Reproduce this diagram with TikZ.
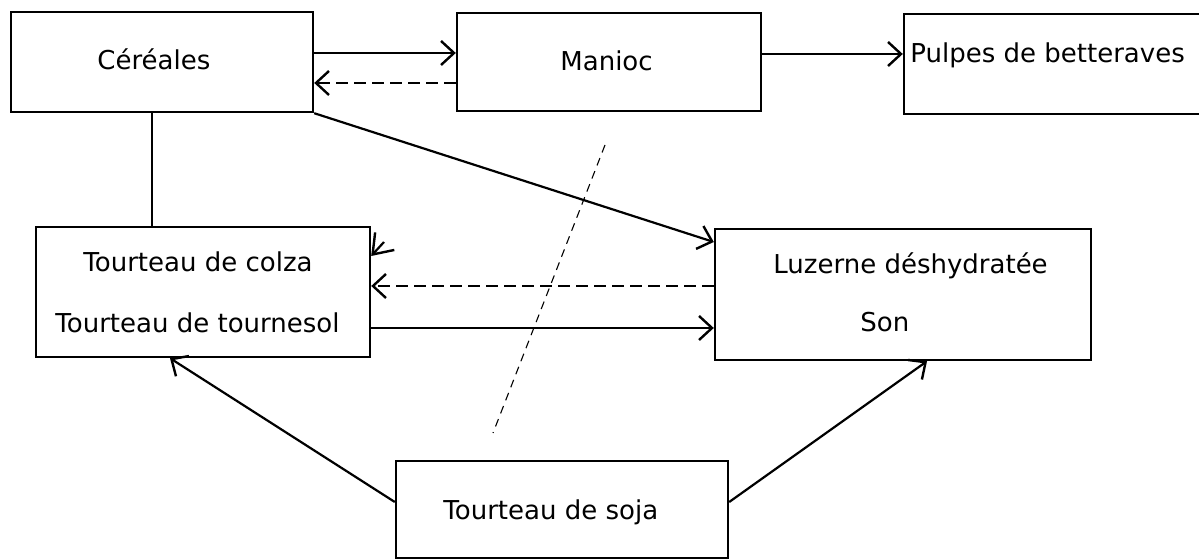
\documentclass[tikz,border=0pt]{standalone}
\usepackage{fontspec}
\setmainfont{DejaVu Sans}
\usetikzlibrary{arrows.meta}
\begin{document}
\begin{tikzpicture}[x=0.5pt,y=-0.5pt,
  box/.style={draw, line width=1.2pt, inner sep=0pt},
  lbl/.style={anchor=base west, inner sep=0pt, font=\fontsize{13pt}{15pt}\selectfont},
  tip/.style={-{Straight Barb[length=6.5pt,width=12pt,line width=1.2pt]}},
  bigtip/.style={-{Straight Barb[length=9pt,width=13pt,line width=1.2pt]}},
  conn/.style={line width=1.1pt},
  dconn/.style={line width=0.8pt, dash pattern=on 6pt off 3pt},
  divider/.style={line width=0.55pt, dash pattern=on 4pt off 3pt}]
\useasboundingbox (0,0) rectangle (1199,560);
% boxes
\node[box, minimum width=151pt, minimum height=50pt] (cereales) at (162,62) {};
\node[box, minimum width=152pt, minimum height=49pt] (manioc) at (609,62) {};
\node[box, minimum width=153pt, minimum height=50pt] (pulpes) at (1057,64) {};
\node[box, minimum width=167pt, minimum height=65pt] (colza) at (203,292) {};
\node[box, minimum width=188pt, minimum height=65.5pt] (luzerne) at (903,294.5) {};
\node[box, minimum width=166pt, minimum height=48.5pt] (soja) at (562,509.5) {};
% texts
\node[lbl] (tcer) at (97,70) {Céréales};
\node[lbl] (tman) at (560,71) {Manioc};
\node[lbl] (tpul) at (910,63) {Pulpes de betteraves};
\node[lbl] (tcol) at (83,272) {Tourteau de colza};
\node[lbl] (ttou) at (55,333) {Tourteau de tournesol};
\node[lbl] (tluz) at (773,274) {Luzerne déshydratée};
\node[lbl] (tson) at (860,332) {Son};
\node[lbl] (tsoj) at (443,520) {Tourteau de soja};
% connectors
\draw[conn, tip] (cereales.east |- 0,53) -- (manioc.west |- 0,53);
\draw[dconn, tip] (manioc.west |- 0,83) -- (cereales.east |- 0,83);
\draw[conn, tip] (manioc.east |- 0,54) -- (pulpes.west |- 0,54);
\draw[conn, tip] (cereales.south east) -- (luzerne.west |- 0,242);
\draw[conn] (cereales.south -| 152,0) -- (colza.north -| 152,0);
\draw[dconn, tip] (luzerne.west |- 0,286) -- (colza.east |- 0,286);
\draw[conn, tip] (colza.east |- 0,328) -- (luzerne.west |- 0,328);
\coordinate (stray) at (384,242);
\draw[conn, bigtip] (stray) -- (colza.east |- 0,256);
\draw[conn, tip] (soja.west |- 0,502) -- (colza.south -| 170,0);
\draw[conn, tip] (soja.east |- 0,502) -- (luzerne.south -| 927,0);
% dashed divider
\coordinate (d1) at (605,145);
\coordinate (d2) at (493,433);
\draw[divider] (d1) -- (d2);
\end{tikzpicture}
\end{document}
